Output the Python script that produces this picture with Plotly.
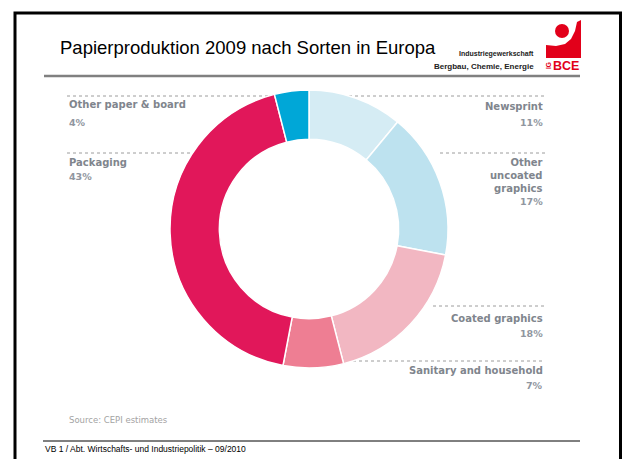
import plotly.graph_objects as go

# ---- data ----
categories = ["Newsprint", "Other uncoated graphics", "Coated graphics",
              "Sanitary and household", "Packaging", "Other paper & board"]
label_lines = ["Newsprint", "Other<br>uncoated<br>graphics", "Coated graphics",
               "Sanitary and household", "Packaging", "Other paper & board"]
shares = [11, 17, 18, 7, 43, 4]
slice_colors = ["#d5ecf4", "#bde2ef", "#f2b7c2", "#ee7e93", "#e1175a", "#00a7d7"]

W, H = 625, 459


def px(x):
    return x / W


def py(y):
    return 1 - y / H


fig = go.Figure()

# donut
cx, cy, R = 309, 229, 139
fig.add_trace(go.Pie(
    labels=categories, values=shares, sort=False, direction="clockwise",
    rotation=0, hole=0.645, textinfo="none", hoverinfo="label+percent",
    marker=dict(colors=slice_colors, line=dict(color="white", width=1.5)),
    domain=dict(x=[px(cx - R), px(cx + R)], y=[py(cy + R), py(cy - R)]),
    showlegend=False,
))

shapes = []
# slide frame
shapes.append(dict(type="rect", xref="paper", yref="paper",
                   x0=px(15), x1=px(620.5), y0=py(480), y1=py(13),
                   line=dict(color="black", width=3), layer="below"))
# grey rule under title
shapes.append(dict(type="line", xref="paper", yref="paper",
                   x0=px(44), x1=px(580), y0=py(76), y1=py(76),
                   line=dict(color="#808080", width=2.5)))
# footer rule
shapes.append(dict(type="line", xref="paper", yref="paper",
                   x0=px(43), x1=px(580), y0=py(441), y1=py(441),
                   line=dict(color="black", width=1)))

# dotted leader lines (x0, x1, y)
leaders = [(67, 545, 96), (67, 190, 153), (440, 545, 153),
           (433, 545, 306), (347, 545, 361)]
for x0, x1, y in leaders:
    shapes.append(dict(type="line", xref="paper", yref="paper",
                       x0=px(x0), x1=px(x1), y0=py(y), y1=py(y),
                       line=dict(color="#9c9c9c", width=1, dash="dot"),
                       layer="below"))

# logo shapes
logo_red = "#e2001a"
shapes.append(dict(type="circle", xref="paper", yref="paper",
                   x0=px(555), x1=px(569), y0=py(38), y1=py(24),
                   fillcolor=logo_red, line=dict(width=0)))


def pth(points):
    s = ""
    for i, (x, y) in enumerate(points):
        s += ("M" if i == 0 else "L") + f" {px(x):.5f},{py(y):.5f} "
    return s + "Z"


body = [(546, 58), (546, 45), (556, 46), (565, 44), (571, 39), (575, 31),
        (577, 22), (581, 20), (581, 58)]
shapes.append(dict(type="path", xref="paper", yref="paper", path=pth(body),
                   fillcolor=logo_red, line=dict(width=0)))

annotations = []


def add_text(text, x, y, xanchor="left", size=11, color="#7c8189",
             family="DejaVu Sans", weight=700, yanchor="middle", textangle=0,
             align="left"):
    annotations.append(dict(text=text, x=px(x), y=py(y), xref="paper",
                            yref="paper", xanchor=xanchor, yanchor=yanchor,
                            showarrow=False, align=align, textangle=textangle,
                            font=dict(size=size, color=color, family=family,
                                      weight=weight)))


# title
add_text("Papierproduktion 2009 nach Sorten in Europa", 58, 47, size=18.5,
         color="black", family="Liberation Sans, Arial", weight=400)
add_text("Industriegewerkschaft", 536, 54, xanchor="right", size=7,
         color="#222", family="Liberation Sans, Arial", weight=700)
add_text("Bergbau, Chemie, Energie", 536, 67, xanchor="right", size=8,
         color="#222", family="Liberation Sans, Arial", weight=700)
add_text("BCE", 581, 66, xanchor="right", size=12.5, color=logo_red,
         family="Liberation Sans, Arial", weight=700)
add_text("IG", 549, 66, xanchor="center", size=6.5, color=logo_red,
         family="Liberation Sans, Arial", weight=700, textangle=-90)

# slice labels: (name_x, name_y, pct_y, anchor)
label_pos = {
    "Newsprint": (545, 106, 123, "right"),
    "Other uncoated graphics": (545, 175, 202, "right"),
    "Coated graphics": (545, 318, 333, "right"),
    "Sanitary and household": (545, 370, 385, "right"),
    "Packaging": (67, 162, 177, "left"),
    "Other paper & board": (67, 105, 122, "left"),
}
for cat, lines, val in zip(categories, label_lines, shares):
    x, yn, yp, anc = label_pos[cat]
    add_text(lines, x, yn, xanchor=anc, size=10, color="#80858d", align=anc)
    add_text(f"{val}%", x, yp, xanchor=anc, size=9.5, color="#9096a0",
             weight=700)

add_text("Source: CEPI estimates", 67, 420, size=8.5, color="#a3a3a3",
         weight=400)
add_text("VB 1 / Abt. Wirtschafts- und Industriepolitik \u2013 09/2010", 43,
         449, size=8.5, color="black", family="Liberation Sans, Arial",
         weight=400)

fig.update_layout(width=W, height=H, margin=dict(l=0, r=0, t=0, b=0),
                  paper_bgcolor="white", plot_bgcolor="white",
                  shapes=shapes, annotations=annotations)

fig.write_html(
    "out.html",
    config={"displayModeBar": False},
    post_script="document.body.style.margin='0';"
                "document.body.style.overflow='hidden';",
)
